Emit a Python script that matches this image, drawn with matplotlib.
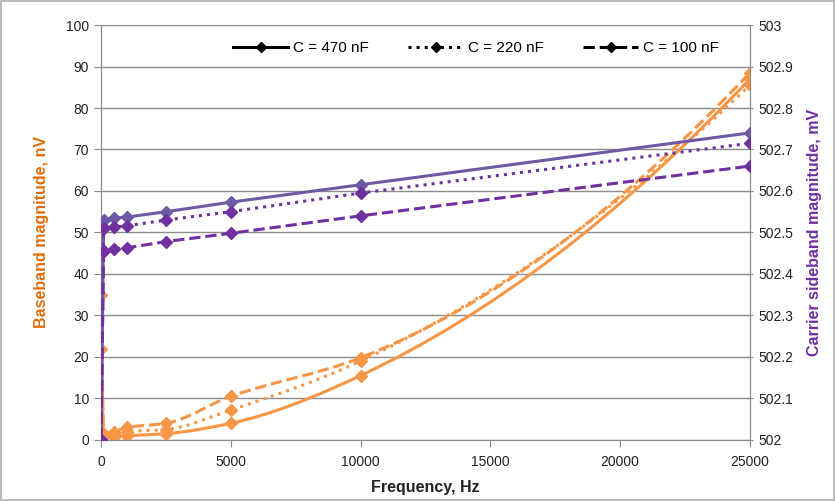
import matplotlib
matplotlib.use("Agg")
import matplotlib.pyplot as plt
from matplotlib.path import Path
from matplotlib.patches import PathPatch
from matplotlib.lines import Line2D
import numpy as np

plt.rcParams['font.family'] = ['Liberation Sans', 'DejaVu Sans']

# ---- data ----
freq = [0, 100, 500, 1000, 2500, 5000, 10000, 25000]

# Baseband magnitude, nV (left axis)
base_470 = [35, 1.0, 0.8, 1.0, 1.5, 4.0, 15.5, 87.0]
base_220 = [22, 1.2, 1.5, 2.0, 2.5, 7.2, 19.0, 85.5]
base_100 = [45, 1.5, 2.0, 3.0, 4.0, 10.5, 19.8, 88.5]

# Carrier sideband magnitude, mV (right axis)
car_470 = [502.0, 502.530, 502.535, 502.537, 502.550, 502.573, 502.615, 502.740]
car_220 = [502.0, 502.510, 502.513, 502.516, 502.530, 502.550, 502.595, 502.715]
car_100 = [502.0, 502.455, 502.460, 502.463, 502.478, 502.498, 502.540, 502.660]

labels = ['C = 470 nF', 'C = 220 nF', 'C = 100 nF']
styles = ['-', ':', '--']

orange = '#F79646'
purples = ['#6E5AA4', '#7030A0', '#7030A0']


def _end_slope(h0, h1, d0, d1):
    m = ((2 * h0 + h1) * d0 - h0 * d1) / (h0 + h1)
    if np.sign(m) != np.sign(d0):
        m = 0.0
    elif np.sign(d0) != np.sign(d1) and abs(m) > abs(3 * d0):
        m = 3 * d0
    return m


def smooth_path(x, y):
    """Smoothed line through the data points, drawn as cubic Bezier segments
    (monotone Hermite tangents)."""
    x = np.asarray(x, float)
    y = np.asarray(y, float)
    n = len(x)
    h = np.diff(x)
    d = np.diff(y) / h
    m = np.zeros(n)
    for k in range(1, n - 1):
        if d[k - 1] * d[k] <= 0:
            m[k] = 0.0
        else:
            w1 = 2 * h[k] + h[k - 1]
            w2 = h[k] + 2 * h[k - 1]
            m[k] = (w1 + w2) / (w1 / d[k - 1] + w2 / d[k])
    m[0] = _end_slope(h[0], h[1], d[0], d[1])
    m[-1] = _end_slope(h[-1], h[-2], d[-1], d[-2])
    verts = [(x[0], y[0])]
    codes = [Path.MOVETO]
    for i in range(n - 1):
        c1 = (x[i] + h[i] / 3, y[i] + m[i] * h[i] / 3)
        c2 = (x[i + 1] - h[i] / 3, y[i + 1] - m[i + 1] * h[i] / 3)
        verts += [c1, c2, (x[i + 1], y[i + 1])]
        codes += [Path.CURVE4] * 3
    return Path(verts, codes)


fig = plt.figure(figsize=(8.35, 5.01), dpi=100)
fig.patch.set_edgecolor('#BBBBBB')
fig.patch.set_linewidth(1.5)
ax = fig.add_axes([0.121, 0.122, 0.777, 0.828])
ax2 = ax.twinx()

ax.set_xlim(0, 25000)
ax.set_ylim(0, 100)
ax2.set_ylim(502, 503)

ax.set_yticks(np.arange(0, 101, 10))
ax.grid(axis='y', color='#8C8C8C', linewidth=1.0)
ax.set_axisbelow(True)

base_sets = [base_470, base_220, base_100]
car_sets = [car_470, car_220, car_100]

lw = 2.2
for b, ls in zip(base_sets, styles):
    patch = PathPatch(smooth_path(freq, b), facecolor='none', edgecolor=orange,
                      linewidth=lw, linestyle=ls, zorder=3)
    ax.add_patch(patch)
    ax.plot(freq, b, linestyle='none', marker='D', markersize=6,
            color=orange, zorder=4)

for c, ls, col in zip(car_sets, styles, purples):
    ax2.plot(freq, c, linestyle=ls, linewidth=lw, color=col,
             marker='D', markersize=6, zorder=5)

for a in (ax, ax2):
    for s in a.spines.values():
        s.set_color('#8C8C8C')
    a.spines['top'].set_visible(False)

ax.set_xticks(np.arange(0, 25001, 5000))
ax.tick_params(axis='both', colors='#8C8C8C', labelcolor='#222222',
               labelsize=10, length=5, direction='out')
ax.tick_params(axis='x', pad=6)
ax2.tick_params(axis='y', colors='#8C8C8C', labelcolor='#222222',
                labelsize=10, length=5, direction='inout')
ax2.set_yticks(np.round(np.arange(502, 503.01, 0.1), 1))
ax2.set_yticklabels(['502', '502.1', '502.2', '502.3', '502.4', '502.5',
                     '502.6', '502.7', '502.8', '502.9', '503'])

ax.set_xlabel('Frequency, Hz', fontsize=11.5, fontweight='bold', color='#222222',
              labelpad=8)
ax.set_ylabel('Baseband magnitude, nV', fontsize=11.5, fontweight='bold',
              color='#E46C0A', labelpad=12)
ax2.set_ylabel('Carrier sideband magnitude, mV', fontsize=11.5, fontweight='bold',
               color='#7030A0', labelpad=10)

handles = [Line2D([], [], color='black', linestyle=ls, linewidth=2.2,
                  marker='D', markersize=5) for ls in styles]
ax2.legend(handles, labels, loc='center', bbox_to_anchor=(0.578, 0.945),
           ncol=3, frameon=False, fontsize=11, handlelength=3.6,
           columnspacing=2.6, handletextpad=0.3)

fig.savefig('out.png', dpi=100, edgecolor=fig.get_edgecolor())
